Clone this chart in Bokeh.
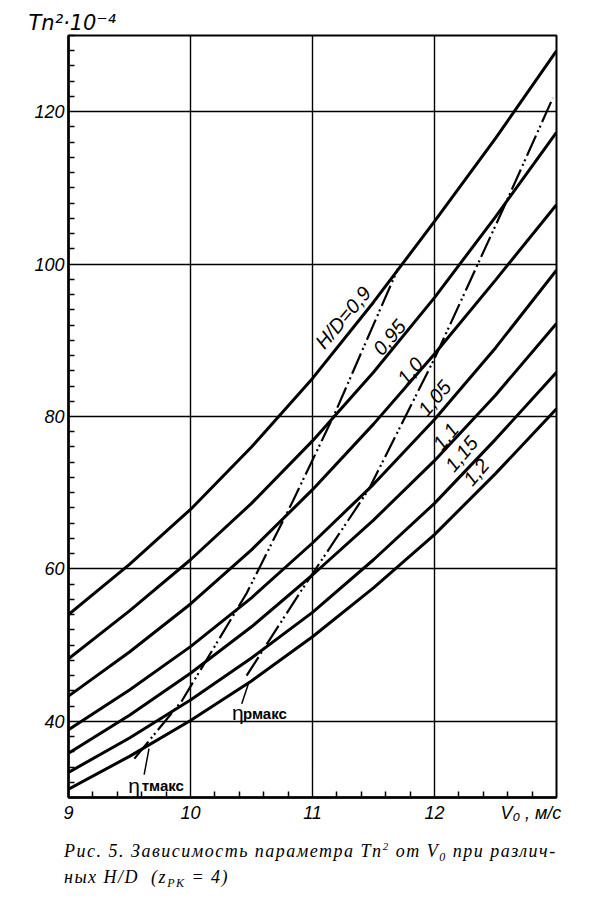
from bokeh.plotting import figure
from bokeh.models import FixedTicker, Label, Range1d, Div, Title
from bokeh.layouts import column
from bokeh.embed import file_html
from bokeh.resources import INLINE

# ---- data ----
v0 = [9, 9.5, 10, 10.5, 11, 11.5, 12, 12.5, 13]
hd_labels = ["0,9", "0,95", "1,0", "1,05", "1,1", "1,15", "1,2"]
tn_09 = [54.0, 60.6, 67.8, 76.0, 85.0, 95.0, 105.6, 116.5, 128.0]
tn_095 = [48.2, 54.5, 61.2, 68.6, 76.8, 85.8, 95.6, 106.2, 117.3]
tn_100 = [43.3, 49.1, 55.4, 62.5, 70.4, 79.0, 88.2, 97.9, 107.8]
tn_105 = [38.9, 44.1, 49.8, 56.2, 63.4, 71.1, 79.6, 89.0, 99.2]
tn_110 = [35.8, 40.8, 46.3, 52.4, 59.2, 66.4, 74.2, 82.8, 92.2]
tn_115 = [33.3, 37.8, 42.8, 48.3, 54.3, 61.2, 68.6, 77.0, 85.8]
tn_120 = [31.1, 35.4, 40.1, 45.3, 51.1, 57.5, 64.5, 72.5, 81.0]

eta_t_v = [9.54, 9.93, 10.46, 10.83, 11.18, 11.70]
eta_t_tn = [35.1, 42.7, 56.8, 68.6, 80.3, 99.4]
eta_p_v = [10.46, 10.91, 11.46, 12.0, 12.55, 12.97]
eta_p_tn = [46.0, 57.2, 70.4, 87.6, 106.8, 121.8]

grid_x = [9, 10, 11, 12, 13]
x_ticks = [9, 10, 11, 12, 12.79]
x_tick_labels = {9: "9", 10: "10", 11: "11", 12: "12", 12.79: "V₀ , м/с"}
y_ticks = [40, 60, 80, 100, 120]

curves = [tn_09, tn_095, tn_100, tn_105, tn_110, tn_115, tn_120]
# label anchor positions (V0, Tn^2) for curve captions
lab_v = [11.25, 11.63, 11.80, 12.00, 12.09, 12.22, 12.34]
lab_t = [93.0, 90.4, 86.0, 82.4, 77.4, 75.1, 72.7]

p = figure(width=593, height=835, output_backend="svg", toolbar_location=None,
           x_range=Range1d(9, 13), y_range=Range1d(30, 130),
           min_border_left=68, min_border_right=37, min_border_top=35, min_border_bottom=38)
p.frame_width = 488
p.frame_height = 762
p.background_fill_color = "white"
p.border_fill_color = "white"
p.outline_line_color = "black"
p.outline_line_width = 2

p.add_layout(Title(text="Tn²·10⁻⁴", align="left", offset=-40, standoff=1,
                   text_font="DejaVu Sans", text_font_style="italic",
                   text_font_size="21px", text_color="black"), "above")

minor_x = [round(9 + 0.2 * i, 1) for i in range(21) if i % 5 != 0]
minor_y = [30 + 2 * i for i in range(51) if (30 + 2 * i) % 20 != 0]

p.xaxis.ticker = FixedTicker(ticks=x_ticks, minor_ticks=minor_x)
p.yaxis.ticker = FixedTicker(ticks=y_ticks, minor_ticks=minor_y)
p.xaxis.major_label_overrides = x_tick_labels
for ax in (p.xaxis, p.yaxis):
    ax.axis_line_width = 2.5
    ax.axis_line_color = "black"
    ax.major_tick_in = 0
    ax.major_tick_out = 0
    ax.minor_tick_in = 6
    ax.minor_tick_out = 0
    ax.minor_tick_line_width = 1.5
    ax.minor_tick_line_color = "black"
    ax.major_label_text_font = "Liberation Sans"
    ax.major_label_text_font_style = "italic"
    ax.major_label_text_font_size = "18px"
    ax.major_label_text_color = "black"
p.yaxis.major_label_standoff = 4
p.xaxis.major_label_standoff = 5

p.xgrid.ticker = FixedTicker(ticks=grid_x)
p.ygrid.ticker = FixedTicker(ticks=y_ticks)
for g in (p.xgrid, p.ygrid):
    g.grid_line_color = "black"
    g.grid_line_width = 1.4
    g.grid_line_alpha = 1.0

for c in curves:
    p.line(v0, c, line_color="black", line_width=3)

p.line(eta_t_v, eta_t_tn, line_color="black", line_width=2.2, line_dash="22 4 2 3 2 4")
p.line(eta_p_v, eta_p_tn, line_color="black", line_width=2.2, line_dash="22 4 2 3 2 4")

# leader ticks from the eta labels
p.line([9.62, 9.66], [33.0, 36.4], line_color="black", line_width=1.5)
p.line([10.42, 10.48], [42.3, 45.2], line_color="black", line_width=1.5)

for i, (lv, lt) in enumerate(zip(lab_v, lab_t)):
    txt = ("H/D=" + hd_labels[i]) if i == 0 else hd_labels[i]
    p.add_layout(Label(x=lv, y=lt, text=txt, angle=0.87, text_align="center",
                       text_baseline="middle", text_font="Liberation Sans",
                       text_font_style="italic", text_font_size="20px", text_color="black"))

# eta labels
p.add_layout(Label(x=9.49, y=31.6, text="η", text_font="Liberation Sans",
                   text_font_size="21px", text_baseline="alphabetic", text_color="black"))
p.add_layout(Label(x=9.60, y=31.6, text="тмакс", text_font="Liberation Sans",
                   text_font_style="bold", text_font_size="15px", text_baseline="alphabetic",
                   text_color="black"))
p.add_layout(Label(x=10.34, y=41.1, text="η", text_font="Liberation Sans",
                   text_font_size="21px", text_baseline="alphabetic", text_color="black"))
p.add_layout(Label(x=10.43, y=41.0, text="рмакс", text_font="Liberation Sans",
                   text_font_style="bold", text_font_size="15px", text_baseline="alphabetic",
                   text_color="black"))

sub = "<span style='position:relative; top:4px; font-size:12px'>{}</span>"
sup = "<span style='position:relative; top:-7px; font-size:11px'>{}</span>"
caption = Div(
    text=("Рис. 5. Зависимость параметра <i>Tn</i>" + sup.format("2") + " от "
          "<i>V</i>" + sub.format("0") + " при различ-<br>"
          "ных <i>H/D</i>&nbsp; (<i>z</i>" + sub.format("РК") + " = 4)"),
    width=593, height=64, margin=(0, 0, 0, 0),
    styles={"font-family": "Liberation Serif", "font-style": "italic", "font-size": "18px",
            "line-height": "24px", "letter-spacing": "1.5px", "padding-left": "64px",
            "padding-top": "4px", "color": "black", "white-space": "nowrap"})

layout = column(p, caption, spacing=0)
open("out.html", "w").write(file_html(layout, INLINE))
